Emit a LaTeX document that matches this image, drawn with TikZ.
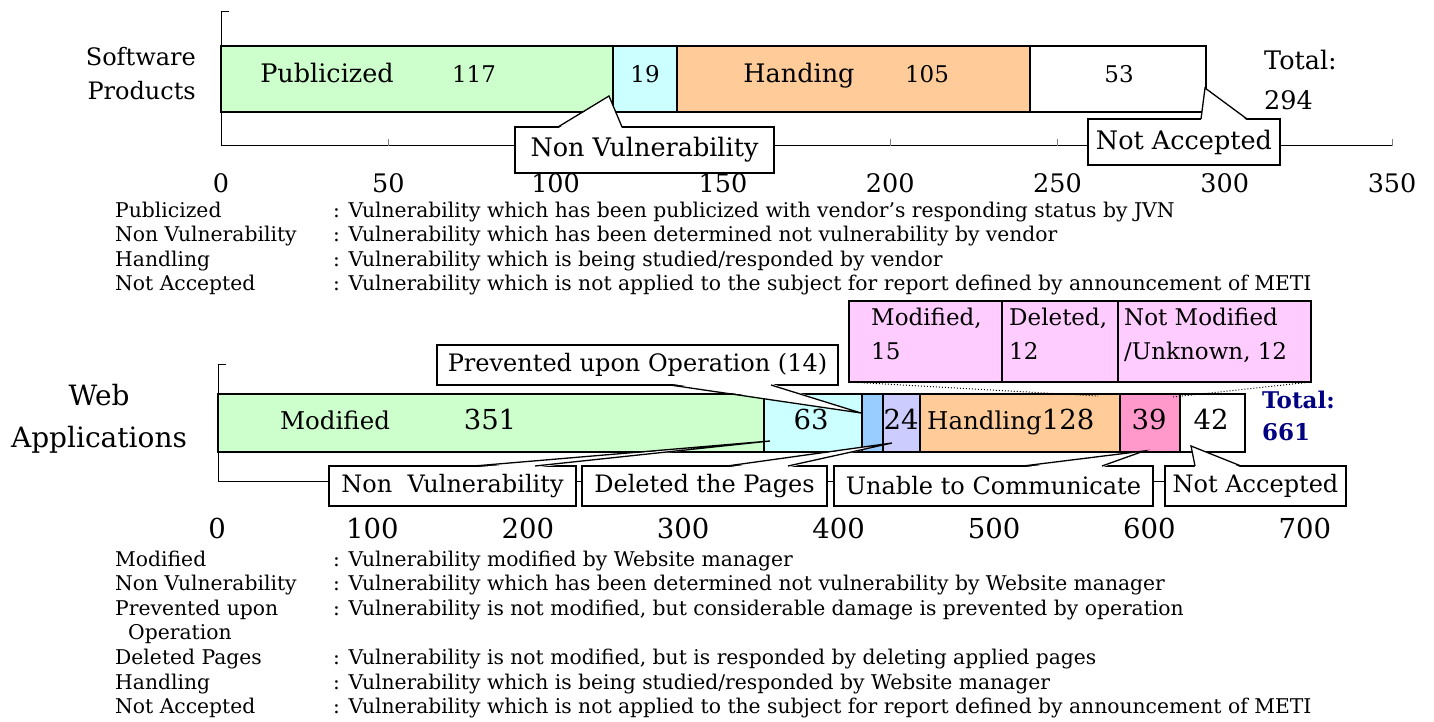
\documentclass[tikz,border=0pt]{standalone}
\usepackage{fontspec}
\setmainfont{DejaVu Serif}
\usetikzlibrary{calc}
\definecolor{cgreen}{HTML}{CCFFCC}
\definecolor{ccyan}{HTML}{CCFFFF}
\definecolor{corange}{HTML}{FFCC99}
\definecolor{cblue}{HTML}{99CCFF}
\definecolor{clav}{HTML}{CCCCFF}
\definecolor{cpink}{HTML}{FF99CC}
\definecolor{cpbox}{HTML}{FFCCFF}
\definecolor{cnavy}{HTML}{000080}
\newcommand\fTop{\fontsize{25.5}{30}\selectfont}
\newcommand\fTopNum{\fontsize{23}{28}\selectfont}
\newcommand\fBot{\fontsize{24.5}{29}\selectfont}
\newcommand\fBotNum{\fontsize{27.5}{32}\selectfont}
\newcommand\fCall{\fontsize{24}{29}\selectfont}
\newcommand\fPink{\fontsize{23}{28}\selectfont}
\newcommand\fLeg{\fontsize{20.3}{24.6}\selectfont}
\newcommand\fTotB{\fontsize{23}{28}\selectfont\bfseries}
\begin{document}
\begin{tikzpicture}[x=1pt,y=-1pt,
  seg/.style={draw=black, line width=1.5pt, inner sep=0pt, outer sep=0pt, anchor=north west},
  cbox/.style={draw=black, fill=white, line width=1.5pt, inner sep=0pt, outer sep=0pt, anchor=north west},
  pbox/.style={draw=black, fill=cpbox, line width=1.5pt, inner sep=0pt, outer sep=0pt, anchor=north west, minimum height=81pt},
  wedge/.style={draw=black, line width=1.3pt, line join=miter},
  lab/.style={inner sep=0pt, anchor=base},
  labw/.style={inner sep=0pt, anchor=base west},
  leg/.style={inner sep=0pt, anchor=base west, font=\fLeg},
  axisline/.style={draw=black, line width=1pt},
  tickline/.style={draw=gray, line width=1pt},
  dotline/.style={draw=black, dotted, line width=1pt}
]
\fill[white] (0,0) rectangle (1434,722);
\useasboundingbox (0,0) rectangle (1434,722);

% ---------------- top chart ----------------
\draw[axisline] (229,12) -- (221,12) -- (221,146) -- (1392,146);
\foreach \k in {1,...,7} \draw[tickline] ({221+167.3*\k},146) -- ({221+167.3*\k},139);
\foreach \v in {0,50,...,350} \node[lab, font=\fTop] at ({221+3.346*\v},193) {\v};

\node[seg, fill=cgreen, minimum width=392pt, minimum height=66pt] (tpub) at (221,46) {};
\node[seg, fill=ccyan, minimum width=64pt, minimum height=66pt] (tnv) at (613,46) {};
\node[seg, fill=corange, minimum width=353pt, minimum height=66pt] (thd) at (677,46) {};
\node[seg, fill=white, minimum width=176pt, minimum height=66pt] (tna) at (1030,46) {};

\node[lab, font=\fTop] (tpubl) at (327,83) {Publicized};
\node[lab, font=\fTopNum] (tpubn) at (474,83) {117};
\node[lab, font=\fTopNum] (tnvn) at (645,83) {19};
\node[lab, font=\fTop] (thdl) at (799,83) {Handing};
\node[lab, font=\fTopNum] (thdn) at (927,83) {105};
\node[lab, font=\fTopNum] (tnan) at (1119,83) {53};

\node[labw, font=\fTop] (ttot) at (1264,70) {Total:};
\node[labw, font=\fTop] (ttotn) at (1264,110) {294};
\node[inner sep=0pt, anchor=base east, font=\fCall] (sw1) at (196,66) {Software};
\node[inner sep=0pt, anchor=base east, font=\fCall] (sw2) at (196,100) {Products};

% callout Non Vulnerability (top)
\coordinate (cnvtip) at (609,96);
\node[cbox, minimum width=259pt, minimum height=46pt, font=\fTop] (cnv) at (515,127) {Non Vulnerability};
\fill[white] ($(cnv.north west)+(43,1.5)$) -- (cnvtip) -- ($(cnv.north west)+(107,1.5)$) -- cycle;
\draw[wedge] ($(cnv.north west)+(43,0)$) -- (cnvtip) -- ($(cnv.north west)+(107,0)$);

% callout Not Accepted (top)
\coordinate (cnatip) at (1205,88);
\node[cbox, minimum width=192pt, minimum height=46pt, font=\fTop] (cna) at (1088,119) {Not Accepted};
\fill[white] ($(cna.north west)+(113,1.5)$) -- (cnatip) -- ($(cna.north west)+(159,1.5)$) -- cycle;
\draw[wedge] ($(cna.north west)+(113,0)$) -- (cnatip) -- ($(cna.north west)+(159,0)$);

% ---------------- top legend ----------------
\node[leg] (lt1) at (115,217) {Publicized};
\node[leg] (lt2) at (115,241.6) {Non Vulnerability};
\node[leg] (lt3) at (115,266.2) {Handling};
\node[leg] (lt4) at (115,290.8) {Not Accepted};
\node[leg] (dt1) at (333,217) {: Vulnerability which has been publicized with vendor's responding status by JVN};
\node[leg] (dt2) at (333,241.6) {: Vulnerability which has been determined not vulnerability by vendor};
\node[leg] (dt3) at (333,266.2) {: Vulnerability which is being studied/responded by vendor};
\node[leg] (dt4) at (333,290.8) {: Vulnerability which is not applied to the subject for report defined by announcement of METI};

% ---------------- bottom chart ----------------
\draw[axisline] (226,364) -- (218,364) -- (218,481) -- (1307,481);
\foreach \v in {0,100,...,700} \node[lab, font=\fBotNum] at ({217+1.554*\v},538) {\v};

\node[seg, fill=cgreen, minimum width=546pt, minimum height=58pt] (bmod) at (218,394) {};
\node[seg, fill=ccyan, minimum width=98pt, minimum height=58pt] (bnv) at (764,394) {};
\node[seg, fill=cblue, minimum width=21pt, minimum height=58pt] (bpre) at (862,394) {};
\node[seg, fill=clav, minimum width=37pt, minimum height=58pt] (bdel) at (883,394) {};
\node[seg, fill=corange, minimum width=200pt, minimum height=58pt] (bhd) at (920,394) {};
\node[seg, fill=cpink, minimum width=60pt, minimum height=58pt] (buc) at (1120,394) {};
\node[seg, fill=white, minimum width=65pt, minimum height=58pt] (bna) at (1180,394) {};

\node[lab, font=\fBot] (bmodl) at (335,429) {Modified};
\node[lab, font=\fBotNum] (bmodn) at (490,429) {351};
\node[lab, font=\fBotNum] (bnvn) at (811,429) {63};
\node[lab, font=\fBotNum] (bdeln) at (901,429) {24};
\node[labw, font=\fBot] (bhdl) at (927,429) {Handling{\fBotNum 128}};
\node[lab, font=\fBotNum] (bucn) at (1149,429) {39};
\node[lab, font=\fBotNum] (bnan) at (1211,429) {42};

\node[labw, font=\fTotB, text=cnavy] (btot) at (1262,408) {Total:};
\node[labw, font=\fTotB, text=cnavy] (btotn) at (1262,440) {661};
\node[lab, font=\fontsize{28}{33}\selectfont] (wa1) at (99,405) {Web};
\node[lab, font=\fontsize{28}{33}\selectfont] (wa2) at (99,447) {Applications};

% pink detail box
\node[pbox, minimum width=153pt] (pb1) at (849,301) {};
\node[pbox, minimum width=116pt] (pb2) at (1002,301) {};
\node[pbox, minimum width=193pt] (pb3) at (1118,301) {};
\node[labw, font=\fPink] (pt1) at (871,325) {Modified,};
\node[labw, font=\fPink] (pt2) at (871,359) {15};
\node[labw, font=\fPink] (pt3) at (1009,325) {Deleted,};
\node[labw, font=\fPink] (pt4) at (1009,359) {12};
\node[labw, font=\fPink] (pt5) at (1124,325) {Not Modified};
\node[labw, font=\fPink] (pt6) at (1124,359) {/Unknown, 12};
\coordinate (dotl) at (1098,396);
\coordinate (dotr) at (1173,397);
\draw[dotline] (pb1.south west) -- (dotl);
\draw[dotline] (pb3.south east) -- (dotr);

% callout Prevented upon Operation
\coordinate (cprtip) at (861,413);
\node[cbox, minimum width=401pt, minimum height=40pt, font=\fCall] (cpr) at (437,345) {Prevented upon Operation (14)};
\fill[white] ($(cpr.south west)+(233,-1.5)$) -- (cprtip) -- ($(cpr.south west)+(334,-1.5)$) -- cycle;
\draw[wedge] ($(cpr.south west)+(233,0)$) -- (cprtip) -- ($(cpr.south west)+(334,0)$);

% callout Non Vulnerability (bottom)
\coordinate (cbnvtip) at (770,441);
\node[cbox, minimum width=247pt, minimum height=40pt, font=\fCall] (cbnv) at (329,466) {Non\ \ Vulnerability};
\fill[white] ($(cbnv.north west)+(145,1.5)$) -- (cbnvtip) -- ($(cbnv.north west)+(206,1.5)$) -- cycle;
\draw[wedge] ($(cbnv.north west)+(145,0)$) -- (cbnvtip) -- ($(cbnv.north west)+(206,0)$);

% callout Deleted the Pages
\coordinate (cdeltip) at (892,443);
\node[cbox, minimum width=245pt, minimum height=40pt, font=\fCall] (cdel) at (582,466) {Deleted the Pages};
\fill[white] ($(cdel.north west)+(145,1.5)$) -- (cdeltip) -- ($(cdel.north west)+(206,1.5)$) -- cycle;
\draw[wedge] ($(cdel.north west)+(145,0)$) -- (cdeltip) -- ($(cdel.north west)+(206,0)$);

% callout Unable to Communicate
\coordinate (cuctip) at (1144,451);
\node[cbox, minimum width=319pt, minimum height=40pt, font=\fCall] (cuc) at (834,466) {Unable to Communicate};
\fill[white] ($(cuc.north west)+(189,1.5)$) -- (cuctip) -- ($(cuc.north west)+(268,1.5)$) -- cycle;
\draw[wedge] ($(cuc.north west)+(189,0)$) -- (cuctip) -- ($(cuc.north west)+(268,0)$);

% callout Not Accepted (bottom)
\coordinate (cbnatip) at (1191,446);
\node[cbox, minimum width=181pt, minimum height=40pt, font=\fCall] (cbna) at (1165,466) {Not Accepted};
\fill[white] ($(cbna.north west)+(30,1.5)$) -- (cbnatip) -- ($(cbna.north west)+(76,1.5)$) -- cycle;
\draw[wedge] ($(cbna.north west)+(30,0)$) -- (cbnatip) -- ($(cbna.north west)+(76,0)$);

% ---------------- bottom legend ----------------
\node[leg] (lb1) at (115,566) {Modified};
\node[leg] (lb2) at (115,590.6) {Non Vulnerability};
\node[leg] (lb3) at (115,615.2) {Prevented upon};
\node[leg] (lb3b) at (128,639.8) {Operation};
\node[leg] (lb4) at (115,664.4) {Deleted Pages};
\node[leg] (lb5) at (115,689) {Handling};
\node[leg] (lb6) at (115,713.6) {Not Accepted};
\node[leg] (db1) at (333,566) {: Vulnerability modified by Website manager};
\node[leg] (db2) at (333,590.6) {: Vulnerability which has been determined not vulnerability by Website manager};
\node[leg] (db3) at (333,615.2) {: Vulnerability is not modified, but considerable damage is prevented by operation};
\node[leg] (db4) at (333,664.4) {: Vulnerability is not modified, but is responded by deleting applied pages};
\node[leg] (db5) at (333,689) {: Vulnerability which is being studied/responded by Website manager};
\node[leg] (db6) at (333,713.6) {: Vulnerability which is not applied to the subject for report defined by announcement of METI};
\end{tikzpicture}
\end{document}
